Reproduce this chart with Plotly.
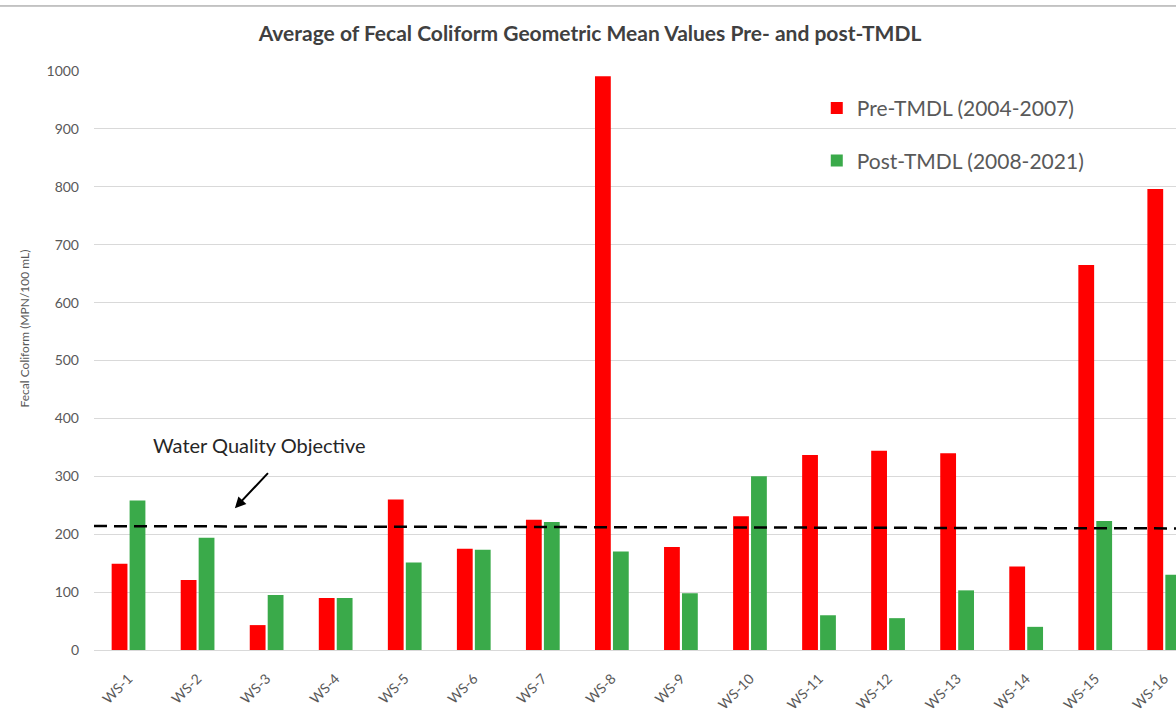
import plotly.graph_objects as go

categories = ["WS-1", "WS-2", "WS-3", "WS-4", "WS-5", "WS-6", "WS-7", "WS-8",
              "WS-9", "WS-10", "WS-11", "WS-12", "WS-13", "WS-14", "WS-15", "WS-16"]
pre_tmdl = [149, 121, 43, 90, 260, 175, 225, 991, 178, 231, 337, 344, 340, 144, 665, 796]
post_tmdl = [258, 194, 95, 90, 151, 173, 221, 170, 98, 300, 60, 55, 103, 40, 223, 130]
wqo = 213
y_ticks = [0, 100, 200, 300, 400, 500, 600, 700, 800, 900, 1000]

FONT = "Lato, Open Sans, sans-serif"
GRAY = "#595959"

fig = go.Figure()
fig.add_trace(go.Bar(x=categories, y=pre_tmdl, name="Pre-TMDL (2004-2007)",
                     marker=dict(color="#FF0000", line=dict(width=0)),
                     legendgroup="a"))
fig.add_trace(go.Bar(x=categories, y=post_tmdl, name="Post-TMDL (2008-2021)",
                     marker=dict(color="#3AAA4A", line=dict(width=0)),
                     legendgroup="b"))

# water quality objective dashed line
fig.add_shape(type="line", xref="paper", yref="y", x0=0, x1=1, y0=wqo + 1, y1=wqo - 3,
              line=dict(color="black", width=2.5, dash="13px,7px"), layer="above")

# top border of the image
fig.add_shape(type="line", xref="paper", yref="paper", x0=-0.09, x1=1.0,
              y0=1.1123, y1=1.1123, line=dict(color="#8C8C8C", width=1))

fig.add_annotation(text="Water Quality Objective", x=1.884, y=354, xref="x", yref="y",
                   showarrow=False, font=dict(family=FONT, size=20, color="#262626"))
fig.add_annotation(text="", x=1.54, y=245, ax=2.04, ay=308, xref="x", yref="y",
                   axref="x", ayref="y", showarrow=True, arrowhead=2, arrowsize=1.1,
                   arrowwidth=2, arrowcolor="black")

# y-axis title
fig.add_annotation(text="Fecal Coliform (MPN/100 mL)", xref="paper", yref="paper",
                   x=-0.0643, y=0.556, textangle=-90, showarrow=False,
                   xanchor="center", yanchor="middle",
                   font=dict(family=FONT, size=12, color=GRAY))

fig.update_layout(
    width=1176, height=718,
    margin=dict(l=94, r=0, t=71, b=68, pad=0),
    paper_bgcolor="white", plot_bgcolor="white",
    barmode="group", bargap=0.48, bargroupgap=0.12,
    title=dict(text="<b>Average of Fecal Coliform Geometric Mean Values Pre- and post-TMDL</b>",
               x=0.5017, xref="container", xanchor="center",
               y=0.9526, yref="container", yanchor="middle",
               font=dict(family=FONT, size=21, color="#404040")),
    font=dict(family=FONT, color=GRAY),
    legend=dict(x=0.668, y=0.9707, xanchor="left", yanchor="top",
                bgcolor="rgba(0,0,0,0)", font=dict(family=FONT, size=21, color=GRAY),
                tracegroupgap=22, traceorder="grouped", itemwidth=30),
    xaxis=dict(type="category", range=[-0.5, 15.17], tickangle=-45,
               tickfont=dict(family=FONT, size=14, color=GRAY), ticklabelstandoff=14,
               showgrid=False, showline=True, linecolor="#D9D9D9", ticks=""),
    yaxis=dict(range=[0, 1000], tickvals=y_ticks, showgrid=True, gridcolor="#D9D9D9",
               gridwidth=1, zeroline=False, ticks="", ticklabelstandoff=14,
               tickfont=dict(family=FONT, size=14, color=GRAY)),
)

fig.write_html("out.html", config={"displayModeBar": False},
               post_script="document.body.style.margin='0px';")
